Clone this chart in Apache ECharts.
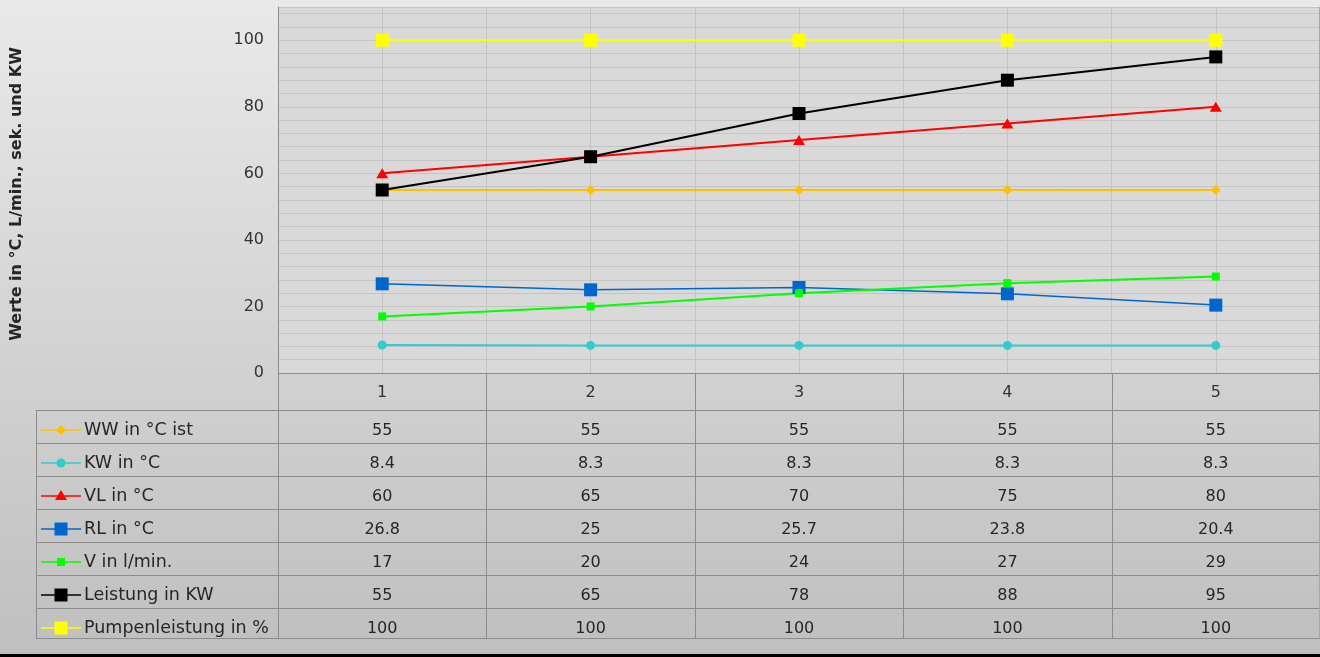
<!DOCTYPE html>
<html><head><meta charset="utf-8">
<script src="https://cdn.jsdelivr.net/npm/echarts@6/dist/echarts.min.js"></script>
<style>html,body{margin:0;padding:0;overflow:hidden;}#c{width:1320px;height:657px;}</style>
</head><body><div id="c"></div>
<script>
// ---- data ----
const categories = ['1', '2', '3', '4', '5'];
const seriesNames = ['WW in °C ist', 'KW in °C', 'VL in °C', 'RL in °C', 'V in l/min.', 'Leistung in KW', 'Pumpenleistung in %'];
const wwValues = [55, 55, 55, 55, 55];
const kwValues = [8.4, 8.3, 8.3, 8.3, 8.3];
const vlValues = [60, 65, 70, 75, 80];
const rlValues = [26.8, 25, 25.7, 23.8, 20.4];
const vValues = [17, 20, 24, 27, 29];
const leistungValues = [55, 65, 78, 88, 95];
const pumpeValues = [100, 100, 100, 100, 100];
const yTickLabels = [0, 20, 40, 60, 80, 100];
const yAxisTitle = 'Werte in °C, L/min., sek. und KW';

const allValues = [wwValues, kwValues, vlValues, rlValues, vValues, leistungValues, pumpeValues];

// ---- styles ----
const FONT = 'DejaVu Sans';
const styles = [
  { color: '#ffc000', symbol: 'diamond', size: 10, width: 2 },
  { color: '#33cccc', symbol: 'circle', size: 9, width: 2 },
  { color: '#ff0000', symbol: 'triangle', size: 12, width: 2 },
  { color: '#0066cc', symbol: 'rect', size: 13, width: 1.5 },
  { color: '#00ff00', symbol: 'rect', size: 8, width: 2 },
  { color: '#000000', symbol: 'rect', size: 13, width: 2 },
  { color: '#ffff00', symbol: 'rect', size: 13, width: 2 }
];

const chart = echarts.init(document.getElementById('c'), null, { renderer: 'canvas' });

const series = seriesNames.map((name, i) => ({
  name: name,
  type: 'line',
  data: allValues[i],
  symbol: styles[i].symbol,
  symbolSize: styles[i].symbol === 'triangle' ? [12, 10] : styles[i].size,
  showAllSymbol: true,
  lineStyle: { color: styles[i].color, width: styles[i].width },
  itemStyle: { color: styles[i].color, borderWidth: 0 },
  emphasis: { disabled: true },
  animation: false
}));

const gridTop = 7, gridBottomY = 373;

chart.setOption({
  animation: false,
  backgroundColor: {
    type: 'linear', x: 0, y: 0, x2: 0, y2: 1,
    colorStops: [{ offset: 0, color: '#e9e9e9' }, { offset: 1, color: '#bfbfbf' }]
  },
  grid: {
    left: 278, right: 0, top: gridTop, bottom: 657 - gridBottomY,
    outerBoundsMode: 'none', containLabel: false,
    show: true, backgroundColor: '#d9d9d9', borderWidth: 0
  },
  xAxis: {
    type: 'category',
    data: categories,
    boundaryGap: true,
    axisLine: { show: true, lineStyle: { color: '#8c8c8c', width: 1 } },
    axisTick: { show: true, alignWithLabel: true, inside: true, length: gridBottomY - gridTop, lineStyle: { color: '#c4c4c4', width: 1 } },
    splitLine: { show: true, lineStyle: { color: '#c4c4c4', width: 1 } },
    axisLabel: { color: '#333333', fontFamily: FONT, fontSize: 16, margin: 12, lineHeight: 16 }
  },
  yAxis: {
    type: 'value',
    min: 0, max: 110, interval: 4,
    name: yAxisTitle,
    nameLocation: 'middle',
    nameRotate: 90,
    nameGap: 253,
    nameTextStyle: { color: '#262626', fontFamily: FONT, fontSize: 16, fontWeight: 'bold', padding: [0, 8, 0, 0] },
    axisLine: { show: true, lineStyle: { color: '#8c8c8c', width: 1 } },
    axisTick: { show: false },
    splitLine: { show: true, lineStyle: { color: '#c4c4c4', width: 1 } },
    axisLabel: {
      color: '#333333', fontFamily: FONT, fontSize: 16, margin: 14,
      formatter: v => (yTickLabels.indexOf(v) >= 0 ? String(v) : '')
    }
  },
  series: series
});

// ---- data table (built from the axis scale) ----
const centers = categories.map((c, i) => chart.convertToPixel({ xAxisIndex: 0 }, i));
const band = centers.length > 1 ? centers[1] - centers[0] : 200;
const tableLeft = 36, axisX = 278, tableRight = 1320;
const headerTop = gridBottomY, rowTops = [410, 443, 476, 509, 542, 575, 608], tableBottom = 638;
const lineColor = '#8c8c8c';
const g = [];

function hline(x1, x2, y) {
  g.push({ type: 'line', silent: true, shape: { x1: x1, y1: y + 0.5, x2: x2, y2: y + 0.5 }, style: { stroke: lineColor, lineWidth: 1 }, z: 10 });
}
function vline(x, y1, y2, color) {
  g.push({ type: 'line', silent: true, shape: { x1: x + 0.5, y1: y1, x2: x + 0.5, y2: y2 }, style: { stroke: color || lineColor, lineWidth: 1 }, z: 10 });
}
rowTops.forEach(y => hline(tableLeft, tableRight, y));
hline(tableLeft, tableRight, tableBottom);
vline(tableLeft, rowTops[0], tableBottom);
vline(axisX, headerTop, tableBottom);
centers.forEach((cx, i) => { if (i > 0) vline(Math.round(cx - band / 2), headerTop, tableBottom); });
vline(1319, gridTop, tableBottom, '#a6a6a6');

// value cells
allValues.forEach((vals, r) => {
  vals.forEach((v, i) => {
    g.push({
      type: 'text', silent: true, z: 11,
      style: { x: centers[i], y: rowTops[r] + 21, text: String(v), fill: '#262626', font: '16px "' + FONT + '"', align: 'center', verticalAlign: 'middle' }
    });
  });
});

// legend keys in first column
const keyX1 = 41, keyX2 = 81, keyCx = 61;
seriesNames.forEach((name, r) => {
  const cy = rowTops[r] + 20;
  const st = styles[r];
  g.push({ type: 'line', silent: true, z: 11, shape: { x1: keyX1, y1: cy, x2: keyX2, y2: cy }, style: { stroke: st.color, lineWidth: 1.5 } });
  const s = st.size;
  if (st.symbol === 'rect') {
    g.push({ type: 'rect', silent: true, z: 12, shape: { x: keyCx - s / 2, y: cy - s / 2, width: s, height: s }, style: { fill: st.color } });
  } else if (st.symbol === 'circle') {
    g.push({ type: 'circle', silent: true, z: 12, shape: { cx: keyCx, cy: cy, r: s / 2 }, style: { fill: st.color } });
  } else if (st.symbol === 'diamond') {
    g.push({ type: 'polygon', silent: true, z: 12, shape: { points: [[keyCx, cy - 5], [keyCx + 5, cy], [keyCx, cy + 5], [keyCx - 5, cy]] }, style: { fill: st.color } });
  } else if (st.symbol === 'triangle') {
    g.push({ type: 'polygon', silent: true, z: 12, shape: { points: [[keyCx, cy - 6], [keyCx + 6, cy + 4], [keyCx - 6, cy + 4]] }, style: { fill: st.color } });
  }
  g.push({
    type: 'text', silent: true, z: 11,
    style: { x: 84, y: rowTops[r] + 20, text: name, fill: '#262626', font: '17.5px "' + FONT + '"', align: 'left', verticalAlign: 'middle' }
  });
});

// bottom frame strip
g.push({ type: 'rect', silent: true, z: 20, shape: { x: 0, y: 654, width: 1320, height: 3 }, style: { fill: '#000000' } });

chart.setOption({ graphic: { elements: g } });
</script>
</body></html>
